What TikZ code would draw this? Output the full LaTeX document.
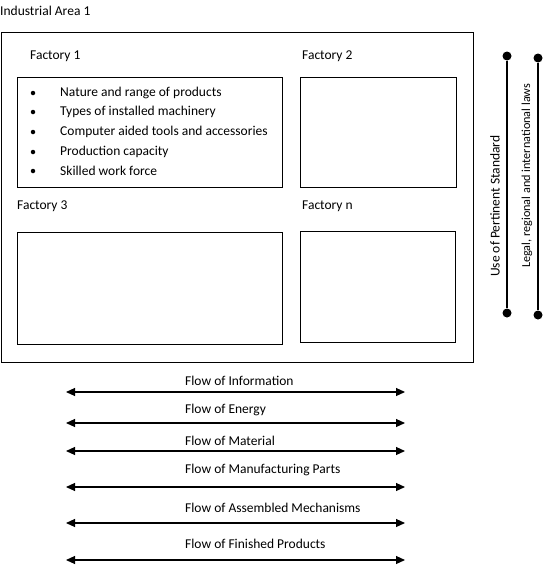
\documentclass[tikz,border=0pt]{standalone}
\usepackage{fontspec}
\setmainfont{Carlito}
\usepackage{tikz}
\usetikzlibrary{arrows.meta}
\usetikzlibrary{positioning}
\tikzset{
    factory/.style={
        draw,
        line width=1pt,
        anchor=north west,
        inner sep=0pt
    },
    label text/.style={
        anchor=west,
        inner sep=0pt,
        font=\fontsize{13.5}{16}\selectfont
    },
    dot/.style={
        circle,
        fill=black,
        minimum size=9pt,
        inner sep=0pt
    },
    flow/.style={
        {Triangle[length=9pt, width=8pt]}-{Triangle[length=9pt, width=8pt]},
        line width=1.1pt
    }
}

\begin{document}
\begin{tikzpicture}[x=1pt, y=-1pt]
  \useasboundingbox (0,0) rectangle (545,565);

  % Industrial area
  \node[label text] (title) at (0,11) {Industrial Area 1};
  \node[factory, line width=1.3pt, minimum width=472pt, minimum height=330pt] (area) at (1,32) {};

  % Factories
  \node[label text] (f1lab) at (30,56) {Factory 1};
  \node[factory, minimum width=265pt, minimum height=110pt] (f1) at (17,77) {};
  \node[label text] (f2lab) at (302,56) {Factory 2};
  \node[factory, minimum width=156pt, minimum height=110pt] (f2) at (300,77) {};
  \node[label text] (f3lab) at (17,206) {Factory 3};
  \node[factory, minimum width=265pt, minimum height=112pt] (f3) at (17,232) {};
  \node[label text] (fnlab) at (302,206) {Factory n};
  \node[factory, minimum width=155pt, minimum height=111pt] (fn) at (300,231) {};

  % Features of factory 1
  \foreach \y/\txt [count=\i] in {93/Nature and range of products,
                                  112/Types of installed machinery,
                                  132/Computer aided tools and accessories,
                                  152/Production capacity,
                                  171/Skilled work force} {
    \node[circle, fill=black, inner sep=0pt, minimum size=4.5pt] (b\i) at (33,\y) {};
    \node[label text] (item\i) at (60,\y) {\txt};
  }

  % Standards and laws
  \node[dot] (s1a) at (507,56) {};
  \node[dot] (s1b) at (507,313) {};
  \node[dot] (s2a) at (538,58) {};
  \node[dot] (s2b) at (538,315) {};
  \draw[line width=1.1pt] (s1a) -- (s1b);
  \draw[line width=1.1pt] (s2a) -- (s2b);
  \node[label text, rotate=90] (std) at (495,277) {Use of Pertinent Standard};
  \node[label text, rotate=90, font=\fontsize{12.2}{15}\selectfont] (laws) at (527,268) {Legal, regional and international laws};

  % Flows
  \foreach \y/\ly/\txt [count=\i] in {392/381/Flow of Information,
                                      423/410/Flow of Energy,
                                      451/441/Flow of Material,
                                      487/470/Flow of Manufacturing Parts,
                                      523/508/Flow of Assembled Mechanisms,
                                      560/544/Flow of Finished Products} {
    \coordinate (fl\i) at (66,\y);
    \coordinate (fr\i) at (405,\y);
    \draw[flow] (fl\i) -- (fr\i);
    \node[label text] (flab\i) at (185,\ly) {\txt};
  }
\end{tikzpicture}
\end{document}
